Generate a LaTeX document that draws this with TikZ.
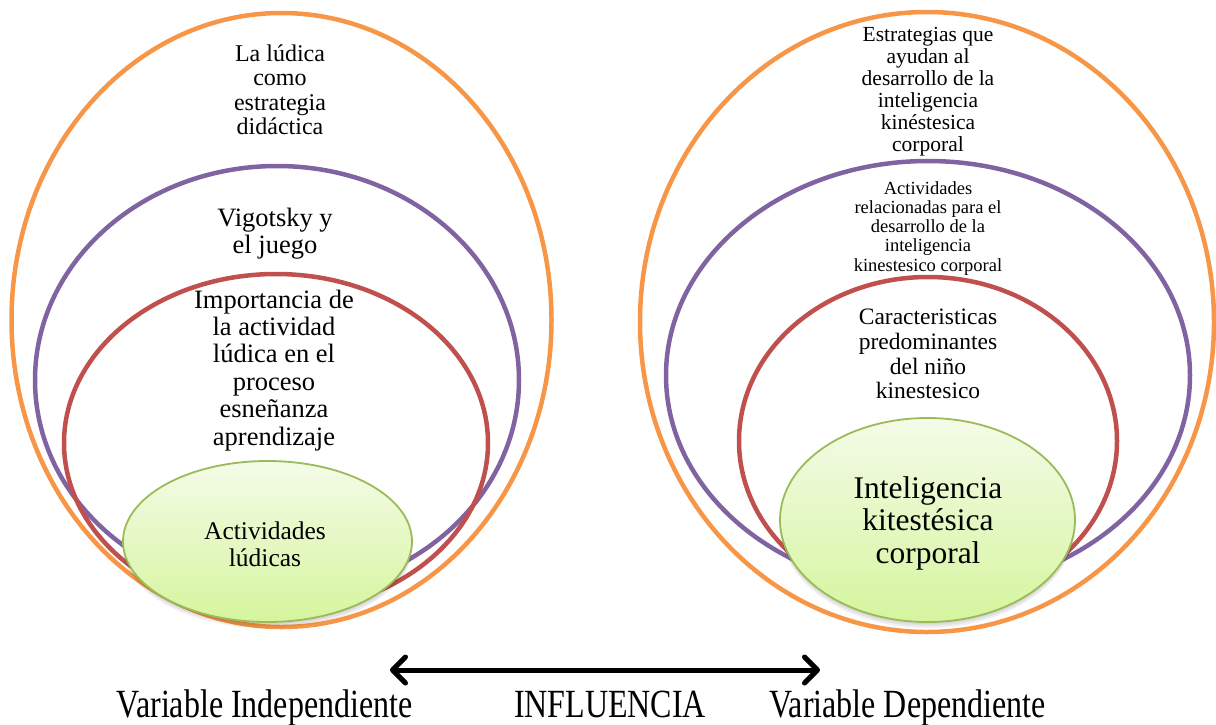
\documentclass[tikz,border=0pt]{standalone}
\usepackage{fontspec}
\setmainfont{Liberation Serif}
\usetikzlibrary{arrows.meta}
\definecolor{corange}{HTML}{F79646}
\definecolor{cpurple}{HTML}{8064A2}
\definecolor{cred}{HTML}{C0504D}
\definecolor{cgreen}{HTML}{9BBB59}
\definecolor{gtop}{HTML}{F4FBE8}
\definecolor{gbot}{HTML}{D6F59E}
\begin{document}
\begin{tikzpicture}[x=1pt,y=-1pt,
  ringo/.style={draw=corange,line width=4.5pt},
  ringp/.style={draw=cpurple,line width=4.5pt},
  ringr/.style={draw=cred,line width=4.5pt},
  core/.style={draw=cgreen,line width=1.8pt,top color=gtop,bottom color=gbot},
  coreshadow/.style={fill=black,opacity=0.06},
  lbl/.style={align=center,inner sep=0pt,anchor=base},
  bottomlbl/.style={inner sep=0pt,anchor=base,font=\fontsize{40}{40}\selectfont},
  influence/.style={line width=5pt,line cap=round,
    {Straight Barb[length=13pt,width=26pt,round]}-{Straight Barb[length=13pt,width=26pt,round]}}
]
\useasboundingbox (0,0) rectangle (1216,724);
% ---------- left target ----------
\draw[ringo] (281.5,320) ellipse [x radius=270,y radius=307];
\draw[ringp] (277,380) ellipse [x radius=242,y radius=214];
\draw[ringr] (276,443) ellipse [x radius=212,y radius=169];
\foreach \d in {2,4,6}
  \fill[coreshadow] (267.5,541.5+\d) ellipse [x radius=144.5,y radius=80.5];
\draw[core] (267.5,541.5) ellipse [x radius=144.5,y radius=80.5];
\node[lbl,font=\fontsize{24}{24.5}\selectfont] (l1) at (280,134.5)
  {La lúdica\\como\\estrategia\\didáctica};
\node[lbl,font=\fontsize{26.5}{26.5}\selectfont] (l2) at (275,253)
  {Vigotsky y\\el juego};
\node[lbl,font=\fontsize{26.5}{27.4}\selectfont] (l3) at (274,445)
  {Importancia de\\la actividad\\lúdica en el\\proceso\\esneñanza\\aprendizaje};
\node[lbl,font=\fontsize{25.5}{27.5}\selectfont] (l4) at (265,566.5)
  {Actividades\\lúdicas};
% ---------- right target ----------
\draw[ringo] (927,322) ellipse [x radius=287,y radius=310];
\draw[ringp] (928,375.5) ellipse [x radius=262,y radius=214.5];
\draw[ringr] (928,441) ellipse [x radius=189,y radius=164];
\foreach \d in {2,4,6}
  \fill[coreshadow] (927.5,520+\d) ellipse [x radius=147.5,y radius=102];
\draw[core] (927.5,520) ellipse [x radius=147.5,y radius=102];
\node[lbl,font=\fontsize{21.5}{22}\selectfont] (r1) at (928,151)
  {Estrategias que\\ayudan al\\desarrollo de la\\inteligencia\\kinéstesica\\corporal};
\node[lbl,font=\fontsize{18.5}{19.3}\selectfont] (r2) at (928,271.2)
  {Actividades\\relacionadas para el\\desarrollo de la\\inteligencia\\kinestesico corporal};
\node[lbl,font=\fontsize{23.5}{24.8}\selectfont] (r3) at (928,398.9)
  {Caracteristicas\\predominantes\\del niño\\kinestesico};
\node[lbl,font=\fontsize{31.5}{32.5}\selectfont] (r4) at (928,563)
  {Inteligencia\\kitestésica\\corporal};
% ---------- bottom ----------
\coordinate (aL) at (390,670);
\coordinate (aR) at (820,670);
\draw[influence] (aL) -- (aR);
\node[bottomlbl] (vi) at (264.5,717) {\scalebox{0.8}[1]{Variable Independiente}};
\node[bottomlbl] (inf) at (610,717) {\scalebox{0.8}[1]{INFLUENCIA}};
\node[bottomlbl] (vd) at (907.5,717) {\scalebox{0.8}[1]{Variable Dependiente}};
\end{tikzpicture}
\end{document}
